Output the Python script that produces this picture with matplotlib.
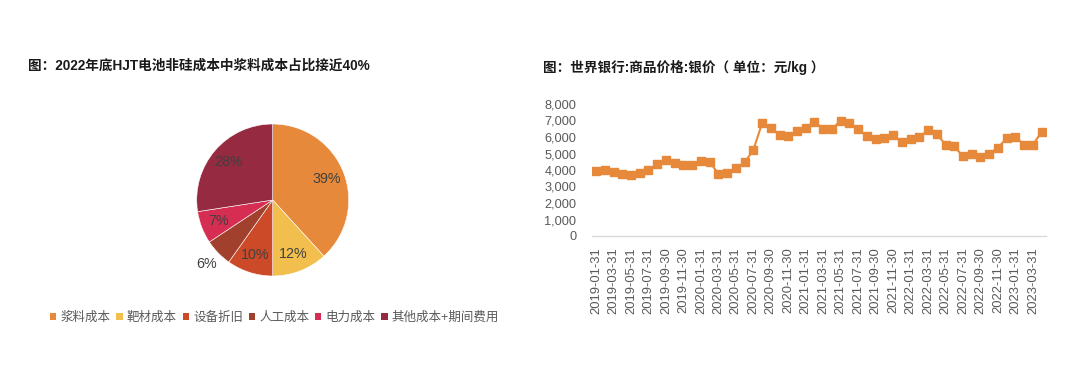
import numpy as np
import matplotlib
matplotlib.use("Agg")
import matplotlib.pyplot as plt
from matplotlib.patches import Rectangle

plt.rcParams['font.family'] = ['Liberation Sans', 'Noto Sans CJK SC', 'DejaVu Sans']

# ---------------- data ----------------
pie_title = "图：2022年底HJT电池非硅成本中浆料成本占比接近40%"
pie_labels = ["浆料成本", "靶材成本", "设备折旧", "人工成本", "电力成本", "其他成本+期间费用"]
pie_values = [39, 12, 10, 6, 7, 28]
pie_colors = ["#E6893B", "#F2BF4E", "#CD4A28", "#A2402E", "#D62E52", "#952A40"]

line_title = "图：世界银行:商品价格:银价（ 单位：元/kg ）"
months = ["2019-01-31", "2019-02-28", "2019-03-31", "2019-04-30", "2019-05-31", "2019-06-30",
          "2019-07-31", "2019-08-31", "2019-09-30", "2019-10-31", "2019-11-30", "2019-12-31",
          "2020-01-31", "2020-02-29", "2020-03-31", "2020-04-30", "2020-05-31", "2020-06-30",
          "2020-07-31", "2020-08-31", "2020-09-30", "2020-10-31", "2020-11-30", "2020-12-31",
          "2021-01-31", "2021-02-28", "2021-03-31", "2021-04-30", "2021-05-31", "2021-06-30",
          "2021-07-31", "2021-08-31", "2021-09-30", "2021-10-31", "2021-11-30", "2021-12-31",
          "2022-01-31", "2022-02-28", "2022-03-31", "2022-04-30", "2022-05-31", "2022-06-30",
          "2022-07-31", "2022-08-31", "2022-09-30", "2022-10-31", "2022-11-30", "2022-12-31",
          "2023-01-31", "2023-02-28", "2023-03-31", "2023-04-30"]
silver_price = [3950, 3980, 3860, 3780, 3700, 3840, 3980, 4340, 4580, 4440,
                4320, 4300, 4540, 4500, 3760, 3820, 4120, 4460, 5210, 6830,
                6520, 6120, 6060, 6360, 6570, 6930, 6480, 6480, 6990, 6850,
                6480, 6040, 5860, 5920, 6120, 5680, 5860, 5980, 6420, 6200,
                5520, 5430, 4830, 4970, 4770, 4950, 5350, 5920, 6000, 5520,
                5520, 6320]
y_ticks = [0, 1000, 2000, 3000, 4000, 5000, 6000, 7000, 8000]

W, H = 1080, 374
fig = plt.figure(figsize=(W / 100, H / 100), dpi=100)

# ---------------- pie ----------------
cx, cy, r = 272.7, 200, 76
half = 1.25 * r
ax1 = fig.add_axes([(cx - half) / W, (H - cy - half) / H, 2 * half / W, 2 * half / H])
pct_texts = [f"{v}%" for v in pie_values]
wedges, texts = ax1.pie(pie_values, colors=pie_colors, startangle=90, counterclock=False,
                        labels=pct_texts, labeldistance=0.76,
                        wedgeprops=dict(edgecolor="white", linewidth=0.4),
                        textprops=dict(color="#404040", fontsize=10.3, ha="center", va="center"))
for t in texts:
    t.set_ha("center")
    t.set_va("center")
# small slice label placed outside
w = wedges[3]
ang = np.deg2rad((w.theta1 + w.theta2) / 2)
texts[3].set_position((1.21 * np.cos(ang), 1.21 * np.sin(ang)))
ax1.set_xlim(-1.25, 1.25)
ax1.set_ylim(-1.25, 1.25)
ax1.set_aspect("equal")
ax1.axis("off")

fig.text(28 / W, 1 - 66 / H, pie_title, fontsize=9.8, fontweight="bold",
         color="#1a1a1a", ha="left", va="center")

handles = [Rectangle((0, 0), 1, 1, facecolor=c, edgecolor="none") for c in pie_colors]
fig.legend(handles, pie_labels, loc="center left", bbox_to_anchor=(50 / W, 1 - 318 / H),
           ncol=6, frameon=False, handlelength=0.5, handleheight=0.5,
           handletextpad=0.35, columnspacing=0.45, borderaxespad=0, borderpad=0,
           prop=dict(size=9), labelcolor="#595959")

# ---------------- line ----------------
x0, x1 = 591.7, 1046
yb, yt = 236, 104
ax2 = fig.add_axes([x0 / W, 1 - yb / H, (x1 - x0) / W, (yb - yt) / H])
x = np.arange(len(silver_price))
ax2.plot(x, silver_price, color="#E6893B", linewidth=1.5, marker="s",
         markersize=6.2, markeredgecolor="#E6893B", markerfacecolor="#E6893B")
ax2.set_xlim(-0.5, len(silver_price) - 0.5)
ax2.set_ylim(0, 8000)
ax2.set_yticks(y_ticks)
ax2.set_yticklabels([f"{v:,}" for v in y_ticks])
ax2.set_xticks(x[::2])
ax2.set_xticklabels(months[::2], rotation=90)
for s in ["top", "right", "left"]:
    ax2.spines[s].set_visible(False)
ax2.spines["bottom"].set_color("#D9D9D9")
ax2.spines["bottom"].set_linewidth(1)
ax2.tick_params(axis="y", length=0, pad=11, labelsize=9.2, labelcolor="#595959")
ax2.tick_params(axis="x", length=0, pad=8, labelsize=9.4, labelcolor="#595959")

fig.text(543 / W, 1 - 67 / H, line_title, fontsize=9.8, fontweight="bold",
         color="#1a1a1a", ha="left", va="center")

fig.savefig("out.png", dpi=100, facecolor="white")
